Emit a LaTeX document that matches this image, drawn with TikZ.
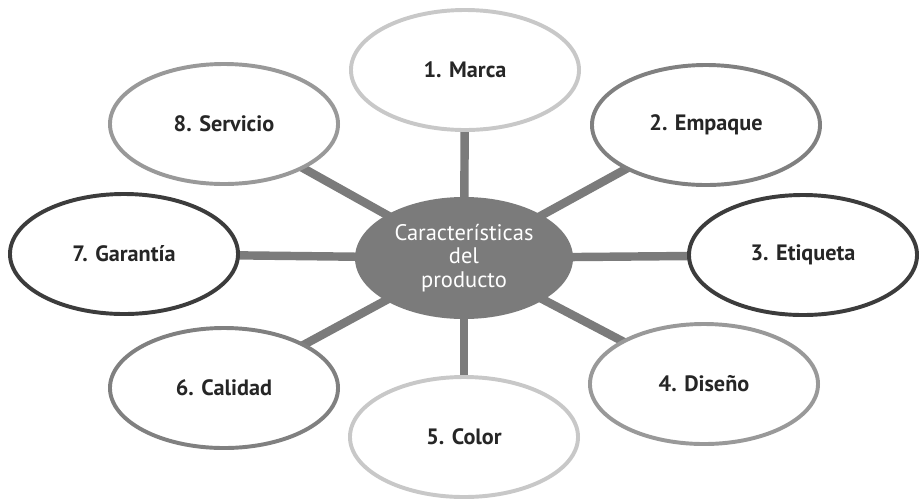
\documentclass[tikz,border=0pt]{standalone}
\usepackage{fontspec}
\setmainfont{PT Sans}
\usetikzlibrary{shapes.geometric,backgrounds}

\definecolor{hub}{HTML}{7B7B7B}
\definecolor{pale}{HTML}{C8C8C8}
\definecolor{midgray}{HTML}{999999}
\definecolor{deepgray}{HTML}{808080}
\definecolor{dark}{HTML}{3C3C3C}

\tikzset{
  leaf/.style={ellipse, draw, line width=2.8pt, fill=white, minimum width=5.7cm, minimum height=3cm,
               text=black!85, font=\fontsize{15.8}{18}\selectfont\bfseries},
  hubnode/.style={ellipse, fill=hub, minimum width=5.45cm, minimum height=3.05cm, inner sep=0pt,
                  text=white, align=center, font=\fontsize{16}{16.8}\selectfont},
  spoke/.style={draw=hub, line width=6pt}
}

\begin{document}
\begin{tikzpicture}

	\def\u{0.025};
	\useasboundingbox (0,0) rectangle (919*\u, -499*\u);

	%center
	\node[hubnode] (hub) at (464*\u, -258*\u) {Características\\del\\producto};

	%features
    \foreach \x/\y/\num/\col/\name in { 465/70/1. Marca/pale/marca, 706/125/2. Empaque/deepgray/empaque,
            803/255/3. Etiqueta/dark/etiqueta, 704/384/4. Diseño/midgray/diseno, 464/437/5. Color/pale/color,
            224/388/6. Calidad/deepgray/calidad, 124/254/7. Garantía/dark/garantia, 224/124/8. Servicio/midgray/servicio}{
           \node[leaf, draw=\col] (\name) at (\x*\u, -\y*\u) {\num};
    }

	%spokes
    \begin{pgfonlayer}{background}
    \foreach \name in {marca,empaque,etiqueta,diseno,color,calidad,garantia,servicio}{
           \draw[spoke] (hub.center) -- (\name.center);
    }
    \end{pgfonlayer}

\end{tikzpicture}
\end{document}
